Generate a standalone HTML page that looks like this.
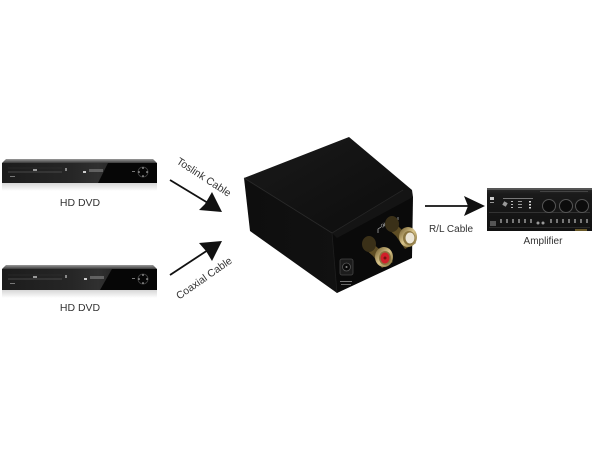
<!DOCTYPE html>
<html>
<head>
<meta charset="utf-8">
<style>
html,body{margin:0;padding:0;background:#fff;}
svg{display:block;}
text{font-family:"Liberation Sans","DejaVu Sans",sans-serif;fill:#333;}
</style>
</head>
<body>
<svg width="600" height="450" viewBox="0 0 600 450" xmlns="http://www.w3.org/2000/svg">
<defs>
  <linearGradient id="dvdFace" x1="0" y1="0" x2="1" y2="0">
    <stop offset="0" stop-color="#1c1c1c"/>
    <stop offset="0.45" stop-color="#262626"/>
    <stop offset="0.62" stop-color="#303030"/>
    <stop offset="1" stop-color="#0a0a0a"/>
  </linearGradient>
  <linearGradient id="dvdTop" x1="0" y1="0" x2="0" y2="1">
    <stop offset="0" stop-color="#9a9a9a"/>
    <stop offset="1" stop-color="#3a3a3a"/>
  </linearGradient>
  <linearGradient id="refl" x1="0" y1="0" x2="0" y2="1">
    <stop offset="0" stop-color="#d6d6d6"/>
    <stop offset="1" stop-color="#ffffff"/>
  </linearGradient>
  <linearGradient id="boxTop" x1="0" y1="0" x2="1" y2="1">
    <stop offset="0" stop-color="#1a1a1a"/>
    <stop offset="1" stop-color="#0c0c0c"/>
  </linearGradient>
  <linearGradient id="boxLeft" x1="0" y1="0" x2="1" y2="0">
    <stop offset="0" stop-color="#0e0e0e"/>
    <stop offset="1" stop-color="#111"/>
  </linearGradient>
  <linearGradient id="gold" x1="0" y1="0" x2="1" y2="1">
    <stop offset="0" stop-color="#6e5a2c"/>
    <stop offset="0.5" stop-color="#d8c48a"/>
    <stop offset="1" stop-color="#7a6630"/>
  </linearGradient>
  <linearGradient id="amp" x1="0" y1="0" x2="0" y2="1">
    <stop offset="0" stop-color="#2a2a2a"/>
    <stop offset="0.15" stop-color="#1a1a1a"/>
    <stop offset="1" stop-color="#111"/>
  </linearGradient>
</defs>

<!-- ===== Top DVD ===== -->
<g>
  <rect x="2" y="183" width="155" height="8" fill="url(#refl)"/>
  <polygon points="6,159 153,159 157,163 2,163" fill="url(#dvdTop)"/>
  <rect x="2" y="163" width="155" height="20" fill="url(#dvdFace)"/>
  <polygon points="108,163 157,163 157,183 98,183" fill="#060606"/>
  <line x1="8" y1="172" x2="62" y2="172" stroke="#555" stroke-width="0.8"/>
  <line x1="8" y1="168" x2="62" y2="168" stroke="#333" stroke-width="0.5"/>
  <rect x="33" y="169" width="4" height="2" fill="#999"/>
  <rect x="65" y="168" width="2" height="3" fill="#888"/>
  <rect x="83" y="171" width="3" height="2" fill="#ccc"/>
  <rect x="89" y="169" width="14" height="3" fill="#777" opacity="0.7"/>
  <rect x="10" y="176" width="5" height="1" fill="#777"/>
  <circle cx="143" cy="172" r="5" fill="none" stroke="#444" stroke-width="0.8"/>
  <circle cx="143" cy="168" r="0.8" fill="#ccc"/>
  <circle cx="143" cy="176" r="0.8" fill="#ccc"/>
  <circle cx="139" cy="172" r="0.8" fill="#ccc"/>
  <circle cx="147" cy="172" r="0.8" fill="#ccc"/>
  <rect x="132" y="171" width="3" height="1" fill="#777"/>
</g>
<text x="80" y="206" font-size="10.5" text-anchor="middle">HD DVD</text>

<!-- ===== Bottom DVD ===== -->
<g>
  <rect x="2" y="290" width="155" height="8" fill="url(#refl)"/>
  <polygon points="6,265 153,265 157,269 2,269" fill="url(#dvdTop)"/>
  <rect x="2" y="269" width="155" height="21" fill="url(#dvdFace)"/>
  <polygon points="112,269 157,269 157,290 100,290" fill="#060606"/>
  <line x1="8" y1="279" x2="62" y2="279" stroke="#555" stroke-width="0.8"/>
  <line x1="8" y1="275" x2="62" y2="275" stroke="#333" stroke-width="0.5"/>
  <rect x="33" y="276" width="4" height="2" fill="#999"/>
  <rect x="65" y="275" width="2" height="3" fill="#888"/>
  <rect x="84" y="278" width="3" height="2" fill="#ccc"/>
  <rect x="90" y="276" width="14" height="3" fill="#777" opacity="0.7"/>
  <rect x="10" y="283" width="5" height="1" fill="#777"/>
  <circle cx="143" cy="279" r="5" fill="none" stroke="#444" stroke-width="0.8"/>
  <circle cx="143" cy="275" r="0.8" fill="#ccc"/>
  <circle cx="143" cy="283" r="0.8" fill="#ccc"/>
  <circle cx="139" cy="279" r="0.8" fill="#ccc"/>
  <circle cx="147" cy="279" r="0.8" fill="#ccc"/>
  <rect x="132" y="278" width="3" height="1" fill="#777"/>
</g>
<text x="80" y="311" font-size="10.5" text-anchor="middle">HD DVD</text>

<!-- ===== Arrows ===== -->
<line x1="170" y1="180" x2="208" y2="203" stroke="#111" stroke-width="1.8"/>
<polygon points="222,212 199,210 205,204 212,192" fill="#111"/>
<text font-size="10.5" text-anchor="middle" transform="translate(202,180) rotate(33)">Toslink Cable</text>

<line x1="170" y1="275" x2="208" y2="250" stroke="#111" stroke-width="1.8"/>
<polygon points="222,241 212,261 206,251 199,243" fill="#111"/>
<text font-size="10.5" text-anchor="middle" transform="translate(206,281) rotate(-35)">Coaxial Cable</text>

<line x1="425" y1="206" x2="470" y2="206" stroke="#111" stroke-width="1.8"/>
<polygon points="485,206 464,196 468,206 464,216" fill="#111"/>
<text x="451" y="232" font-size="10" text-anchor="middle">R/L Cable</text>

<!-- ===== Converter box ===== -->
<g>
  <polygon points="244,178 332,233 337,293 250,231" fill="url(#boxLeft)"/>
  <polygon points="332,233 403,190 413,197 412,258 337,293" fill="#0a0a0a"/>
  <polygon points="244,178 349,137 412,190 403,190 332,233" fill="url(#boxTop)"/>
  <polygon points="332,233 403,190 412,190 413,197 337,238" fill="#141414"/>
  <line x1="332" y1="233" x2="403" y2="190" stroke="#262626" stroke-width="0.8"/>
  <line x1="244" y1="178" x2="332" y2="233" stroke="#2a2a2a" stroke-width="0.8"/>
  <line x1="332" y1="233" x2="337" y2="293" stroke="#1e1e1e" stroke-width="0.8"/>

  <path d="M378,233 l0,-4 l3,-2 M383,226 c3,-2 5,-3 7,-4 M392,221 l4,-3 M398,217 l0,3" stroke="#bbb" stroke-width="0.7" fill="none"/>
  <text x="0" y="0" font-size="5" transform="translate(382,228) rotate(-33)" style="fill:#bbb">OUT</text>

  <polygon points="392,220 402,230 416,243 405,249 396,236 387,228" fill="#5e4d24"/>
  <ellipse cx="392" cy="224" rx="7" ry="8" fill="#3a3018"/>
  <ellipse cx="408" cy="237" rx="9" ry="10" fill="url(#gold)"/>
  <ellipse cx="409" cy="238" rx="6" ry="7" fill="#8a7540"/>
  <ellipse cx="410" cy="238" rx="4.5" ry="5.5" fill="#ece6d6"/>

  <polygon points="369,240 379,249 393,262 382,268 373,256 364,248" fill="#5e4d24"/>
  <ellipse cx="369" cy="244" rx="7" ry="8" fill="#3a3018"/>
  <ellipse cx="384" cy="257" rx="9" ry="10" fill="url(#gold)"/>
  <ellipse cx="385" cy="258" rx="6" ry="7" fill="#8a7540"/>
  <ellipse cx="385" cy="258" rx="4.5" ry="5.5" fill="#d0202a"/>
  <circle cx="385" cy="258" r="1.5" fill="#7a1010"/>

  <rect x="340" y="259" width="13" height="16" rx="2" fill="#1c1c1c" stroke="#444" stroke-width="0.8"/>
  <circle cx="346.5" cy="267" r="4" fill="#0a0a0a" stroke="#555" stroke-width="0.8"/>
  <circle cx="346.5" cy="267" r="1" fill="#888"/>
  <rect x="340" y="281" width="12" height="1" fill="#777"/>
  <rect x="341" y="284" width="10" height="1" fill="#666"/>
</g>

<!-- ===== Amplifier ===== -->
<g>
  <rect x="487" y="188" width="105" height="43" fill="url(#amp)"/>
  <rect x="487" y="188" width="105" height="2" fill="#555"/>
  <rect x="489" y="212" width="101" height="1" fill="#333"/>
  <rect x="490" y="197" width="4" height="3" fill="#ccc"/>
  <rect x="490" y="202" width="4" height="1" fill="#999"/>
  <rect x="503" y="198" width="30" height="1" fill="#777"/>
  <rect x="503" y="202" width="4" height="4" fill="#999" transform="rotate(30 505 204)"/>
  <rect x="511" y="201" width="2" height="1" fill="#bbb"/>
  <rect x="511" y="204" width="2" height="1" fill="#bbb"/>
  <rect x="511" y="207" width="2" height="1" fill="#bbb"/>
  <rect x="518" y="201" width="4" height="1" fill="#999"/>
  <rect x="518" y="204" width="4" height="1" fill="#999"/>
  <rect x="518" y="207" width="4" height="1" fill="#999"/>
  <rect x="529" y="201" width="2" height="1.5" fill="#ddd"/>
  <rect x="529" y="204" width="2" height="1.5" fill="#ddd"/>
  <rect x="529" y="207" width="2" height="1.5" fill="#ddd"/>
  <circle cx="549" cy="206" r="6.5" fill="#0c0c0c" stroke="#555" stroke-width="1"/>
  <circle cx="566" cy="206" r="6.5" fill="#0c0c0c" stroke="#555" stroke-width="1"/>
  <circle cx="582" cy="206" r="6.5" fill="#0c0c0c" stroke="#555" stroke-width="1"/>
  <rect x="540" y="191" width="48" height="1" fill="#444"/>
  <rect x="490" y="221" width="6" height="5" fill="#555"/>
  <g fill="#777">
    <rect x="500" y="219" width="2" height="4"/>
    <rect x="506" y="219" width="2" height="4"/>
    <rect x="512" y="219" width="2" height="4"/>
    <rect x="518" y="219" width="2" height="4"/>
    <rect x="524" y="219" width="2" height="4"/>
    <rect x="530" y="219" width="2" height="4"/>
    <rect x="550" y="219" width="2" height="4"/>
    <rect x="556" y="219" width="2" height="4"/>
    <rect x="562" y="219" width="2" height="4"/>
    <rect x="568" y="219" width="2" height="4"/>
    <rect x="574" y="219" width="2" height="4"/>
    <rect x="580" y="219" width="2" height="4"/>
    <rect x="586" y="219" width="2" height="4"/>
  </g>
  <circle cx="538" cy="223" r="1.5" fill="#999"/>
  <circle cx="543" cy="223" r="1.5" fill="#999"/>
  <rect x="489" y="227" width="101" height="1" fill="#2a2a2a"/>
  <rect x="575" y="229" width="12" height="2" fill="#6a5a2a"/>
</g>
<text x="543" y="244" font-size="10" text-anchor="middle">Amplifier</text>
</svg>
</body>
</html>
